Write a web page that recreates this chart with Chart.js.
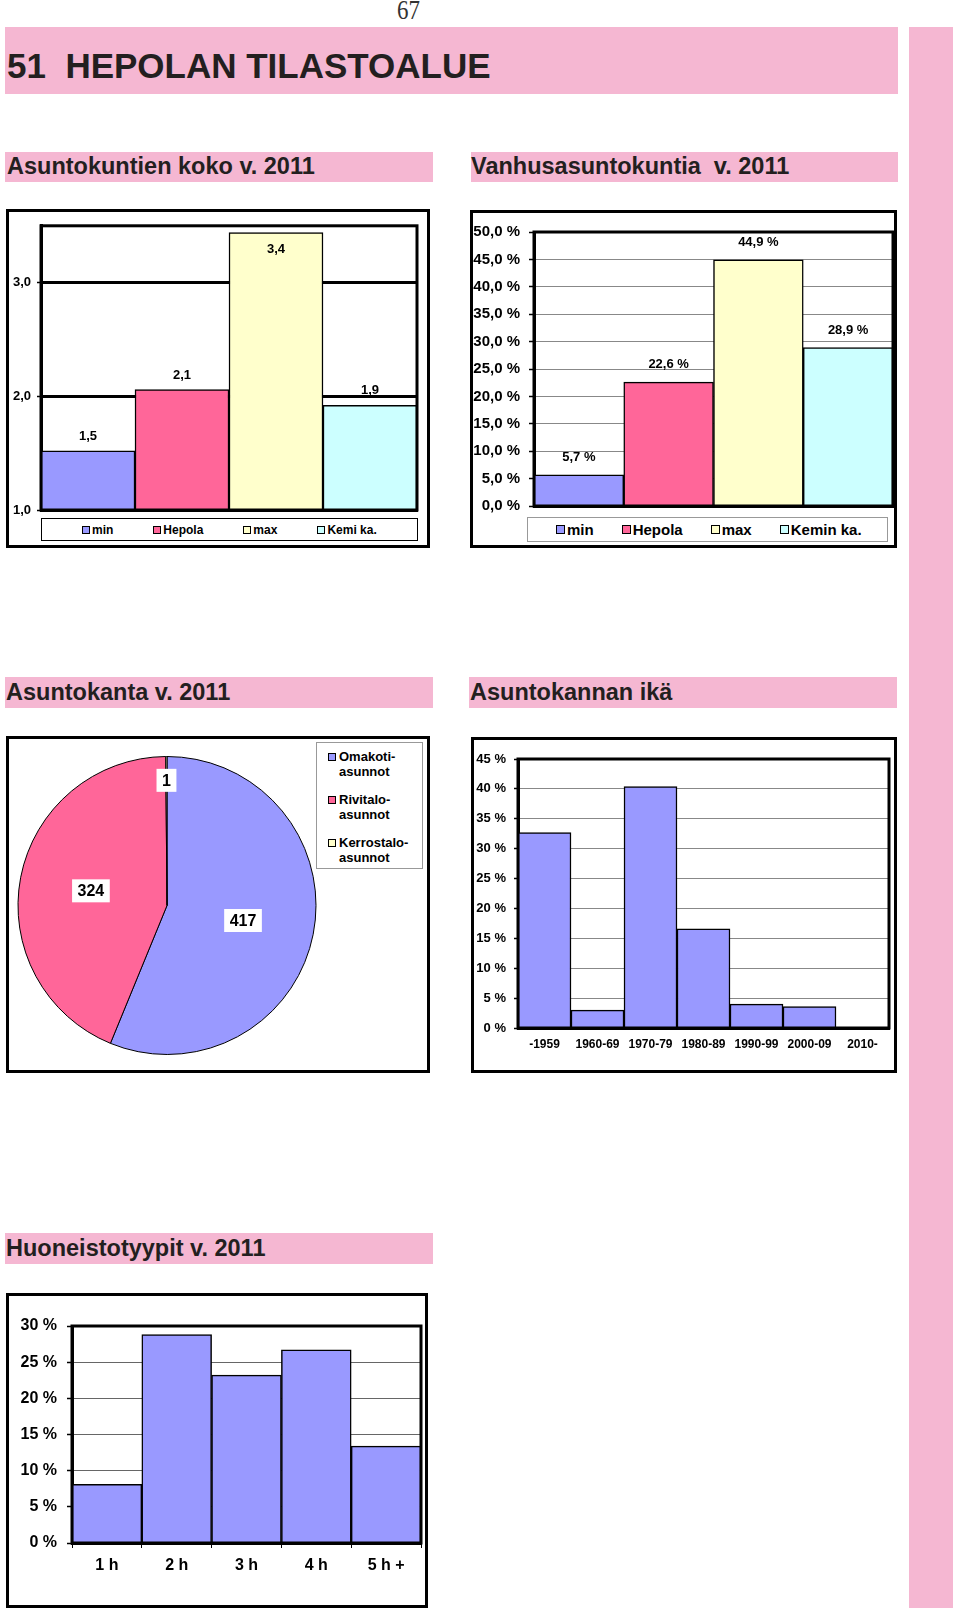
<!DOCTYPE html>
<html>
<head>
<meta charset="utf-8">
<script src="https://cdn.jsdelivr.net/npm/chart.js@4.4.1/dist/chart.umd.min.js"></script>
<style>
body { margin: 0; background: #fff; }
#page { position: relative; width: 960px; height: 1614px; overflow: hidden;
        font-family: "Liberation Sans", Arial, sans-serif; color: #231f20; }
.band { position: absolute; background: #f5b7d2; }
.title { position: absolute; white-space: pre; font-weight: bold; line-height: 1; }
.box { position: absolute; border: 3px solid #000; box-sizing: border-box; background: #fff; }
.box canvas { position: absolute; left: 0; top: 0; }
.legend { position: absolute; box-sizing: border-box; background: #fff; font-weight: bold; color: #000;
          display: flex; align-items: center; white-space: nowrap; }
.legend .item { display: flex; align-items: center; }
.legend .mark { display: inline-block; border: 1px solid #000; box-sizing: border-box; margin-right: 2px; }
.pielegend { position: absolute; border: 1px solid #999; box-sizing: border-box; background: #fff;
             font-weight: bold; font-size: 13px; color: #000; }
.pielegend .item { position: absolute; left: 0; line-height: 15px; }
.pielegend .mark { position: absolute; left: 11px; top: 4px; width: 8px; height: 8px; border: 1px solid #000; box-sizing: border-box; }
.pielegend .txt { position: absolute; left: 22px; top: 0; white-space: pre; }
</style>
</head>
<body>
<div id="page">
  <div class="title" style="left:397px;top:-3px;font-family:'Liberation Serif',serif;font-weight:normal;font-size:27px;color:#333;transform:scaleX(0.85);transform-origin:left;">67</div>
  <div class="band" style="left:5px;top:27px;width:893px;height:67px;"></div>
  <div class="title" style="left:7px;top:48px;font-size:35px;">51  HEPOLAN TILASTOALUE</div>
  <div class="band" style="left:909px;top:27px;width:44px;height:1581px;"></div>

  <div class="band" style="left:5px;top:152px;width:428px;height:30px;"></div>
  <div class="title" style="left:7px;top:155px;font-size:23.5px;">Asuntokuntien koko v. 2011</div>
  <div class="band" style="left:471px;top:152px;width:427px;height:30px;"></div>
  <div class="title" style="left:471px;top:155px;font-size:23.5px;">Vanhusasuntokuntia  v. 2011</div>

  <div class="box" style="left:6px;top:209px;width:424px;height:339px;"><canvas id="koko" width="418" height="333"></canvas></div>
  <div class="legend" id="kokoLegend" style="left:41px;top:518px;width:377px;height:23px;border:1.5px solid #000;font-size:12px;padding-left:40px;gap:40px;"></div>

  <div class="box" style="left:470px;top:210px;width:427px;height:338px;"><canvas id="vanhus" width="421" height="332"></canvas></div>
  <div class="legend" id="vanhusLegend" style="left:527px;top:517px;width:361px;height:25px;border:1.5px solid #999;font-size:15px;padding-left:28px;gap:28px;"></div>

  <div class="band" style="left:5px;top:677px;width:428px;height:31px;"></div>
  <div class="title" style="left:6px;top:681px;font-size:23.5px;">Asuntokanta v. 2011</div>
  <div class="band" style="left:469px;top:677px;width:428px;height:31px;"></div>
  <div class="title" style="left:470px;top:681px;font-size:23.5px;">Asuntokannan ikä</div>

  <div class="box" style="left:6px;top:736px;width:424px;height:337px;"><canvas id="kanta" width="418" height="331"></canvas></div>
  <div class="pielegend" id="kantaLegend" style="left:316px;top:742px;width:107px;height:127px;"></div>

  <div class="box" style="left:471px;top:737px;width:426px;height:336px;"><canvas id="ika" width="420" height="330"></canvas></div>

  <div class="band" style="left:5px;top:1233px;width:428px;height:31px;"></div>
  <div class="title" style="left:6px;top:1237px;font-size:23.5px;">Huoneistotyypit v. 2011</div>

  <div class="box" style="left:6px;top:1293px;width:422px;height:315px;"><canvas id="tyyppi" width="416" height="309"></canvas></div>
</div>

<script>
// --- DATA ---
const kokoLabels = ['min', 'Hepola', 'max', 'Kemi ka.'];
const kokoValues = [1.52, 2.06, 3.44, 1.92];

const vanhusLabels = ['min', 'Hepola', 'max', 'Kemin ka.'];
const vanhusValues = [5.7, 22.6, 44.9, 28.9];

const kantaLabels = [['Omakoti-', 'asunnot'], ['Rivitalo-', 'asunnot'], ['Kerrostalo-', 'asunnot']];
const kantaValues = [417, 324, 1];

const ikaLabels = ['-1959', '1960-69', '1970-79', '1980-89', '1990-99', '2000-09', '2010-'];
const ikaValues = [32.7, 3.0, 40.4, 16.6, 4.0, 3.6, 0];

const tyyppiLabels = ['1 h', '2 h', '3 h', '4 h', '5 h +'];
const tyyppiValues = [8.1, 28.8, 23.2, 26.7, 13.4];

const vertailuColors = ['#9999ff', '#ff6699', '#ffffcc', '#ccffff'];
const kantaColors = ['#9999ff', '#ff6699', '#ffffcc'];
const barColor = '#9999ff';

Chart.defaults.font.family = "'Liberation Sans', Arial, sans-serif";
Chart.defaults.color = '#000';
Chart.defaults.animation = false;

const pilkku = (v, d) => v.toFixed(d).replace('.', ',');

// kehys piirtoalueen ympärille
const plotFrame = {
  id: 'plotFrame',
  afterDatasetsDraw(chart, args, opts) {
    const a = chart.chartArea, ctx = chart.ctx;
    ctx.save();
    ctx.lineWidth = opts.width || 3;
    ctx.strokeStyle = '#000';
    ctx.strokeRect(a.left, a.top, a.right - a.left, a.bottom - a.top);
    ctx.restore();
  }
};

// arvot pylväiden päälle
const barLabels = {
  id: 'barLabels',
  afterDatasetsDraw(chart, args, opts) {
    if (!opts.format) return;
    const ctx = chart.ctx;
    const meta = chart.getDatasetMeta(0);
    ctx.save();
    ctx.font = 'bold ' + opts.size + 'px "Liberation Sans", Arial, sans-serif';
    ctx.fillStyle = '#000';
    ctx.textAlign = 'center';
    meta.data.forEach((bar, i) => {
      const v = chart.data.datasets[0].data[i];
      let y = bar.y - opts.offset;
      ctx.textBaseline = 'bottom';
      if (y - opts.size < chart.chartArea.top) {
        y = bar.y + opts.offset + 2;
        ctx.textBaseline = 'top';
      }
      ctx.fillText(opts.format(v), bar.x, y);
    });
    ctx.restore();
  }
};

// piirakan arvot valkoisella pohjalla
const pieLabels = {
  id: 'pieLabels',
  afterDatasetsDraw(chart) {
    const ctx = chart.ctx;
    const meta = chart.getDatasetMeta(0);
    ctx.save();
    ctx.font = 'bold 16px "Liberation Sans", Arial, sans-serif';
    ctx.textAlign = 'center';
    ctx.textBaseline = 'middle';
    meta.data.forEach((arc, i) => {
      const v = chart.data.datasets[0].data[i];
      const span = arc.endAngle - arc.startAngle;
      const frac = span < 0.2 ? 0.84 : 0.52;
      const mid = (arc.startAngle + arc.endAngle) / 2;
      const x = arc.x + Math.cos(mid) * arc.outerRadius * frac;
      const y = arc.y + Math.sin(mid) * arc.outerRadius * frac;
      const t = String(v);
      const w = ctx.measureText(t).width + 11, h = 23;
      ctx.fillStyle = '#fff';
      ctx.fillRect(x - w / 2, y - h / 2, w, h);
      ctx.fillStyle = '#000';
      ctx.fillText(t, x, y + 1);
    });
    ctx.restore();
  }
};

function yScale(o) {
  return {
    min: o.min, max: o.max,
    afterFit: s => { s.width = o.width; },
    ticks: { stepSize: o.step, includeBounds: false, padding: o.pad,
             font: { size: o.font, weight: 'bold' }, callback: o.format },
    grid: { color: o.gridColor, lineWidth: o.gridWidth, tickLength: o.tick, tickColor: '#000', tickWidth: 1.5 },
    border: { display: true, color: '#000', width: 3 }
  };
}

function barChart(id, labels, values, colors, o) {
  return new Chart(document.getElementById(id), {
    type: 'bar',
    data: {
      labels: labels,
      datasets: [{
        data: values,
        backgroundColor: colors,
        borderColor: '#000',
        borderWidth: 1.5,
        barPercentage: 1,
        categoryPercentage: 1
      }]
    },
    options: {
      responsive: false,
      layout: { padding: o.padding },
      plugins: {
        legend: { display: false },
        tooltip: { enabled: false },
        plotFrame: { width: 3 },
        barLabels: o.labels || {}
      },
      scales: {
        x: o.x,
        y: yScale(o.y)
      }
    },
    plugins: [plotFrame, barLabels]
  });
}

// 1. Asuntokuntien koko
barChart('koko', kokoLabels, kokoValues, vertailuColors, {
  padding: { left: 0, top: 13, right: 10, bottom: 35 },
  x: { afterFit: s => { s.height = 0; }, ticks: { display: false }, grid: { display: false },
       border: { display: true, color: '#000', width: 3 } },
  y: { min: 1, max: 3.5, step: 1, width: 32, pad: 6, tick: 4, font: 13,
       gridColor: '#000', gridWidth: 3, format: v => pilkku(v, 1) },
  labels: { size: 13, offset: 8, format: v => pilkku(v, 1) }
});

// 2. Vanhusasuntokuntia
barChart('vanhus', vanhusLabels, vanhusValues, vertailuColors, {
  padding: { left: 0, top: 19, right: 1, bottom: 39 },
  x: { afterFit: s => { s.height = 0; }, ticks: { display: false }, grid: { display: false },
       border: { display: true, color: '#000', width: 3 } },
  y: { min: 0, max: 50, step: 5, width: 61, pad: 9, tick: 5, font: 15,
       gridColor: '#888', gridWidth: 1, format: v => pilkku(v, 1) + ' %' },
  labels: { size: 13, offset: 11, format: v => pilkku(v, 1) + ' %' }
});

// 4. Asuntokannan ikä
barChart('ika', ikaLabels, ikaValues, barColor, {
  padding: { left: 0, top: 19, right: 5, bottom: 12 },
  x: { afterFit: s => { s.height = 30; },
       ticks: { padding: 9, maxRotation: 0, autoSkip: false, font: { size: 12, weight: 'bold' } },
       grid: { display: false, drawTicks: false },
       border: { display: true, color: '#000', width: 3 } },
  y: { min: 0, max: 45, step: 5, width: 44, pad: 8, tick: 4, font: 13,
       gridColor: '#888', gridWidth: 1, format: v => v + ' %' }
});

// 5. Huoneistotyypit
barChart('tyyppi', tyyppiLabels, tyyppiValues, barColor, {
  padding: { left: 0, top: 30, right: 4, bottom: 20 },
  x: { afterFit: s => { s.height = 42; },
       ticks: { padding: 8, maxRotation: 0, font: { size: 16, weight: 'bold' } },
       grid: { display: true, drawOnChartArea: false, drawTicks: true, tickLength: 5, color: '#000', lineWidth: 1 },
       border: { display: true, color: '#000', width: 3 } },
  y: { min: 0, max: 30, step: 5, width: 63, pad: 10, tick: 5, font: 16,
       gridColor: '#666', gridWidth: 1, format: v => v + ' %' }
});

// 3. Asuntokanta (piirakka)
new Chart(document.getElementById('kanta'), {
  type: 'pie',
  data: {
    labels: kantaLabels.map(l => l.join(' ')),
    datasets: [{
      data: kantaValues,
      backgroundColor: kantaColors,
      borderColor: '#000',
      borderWidth: 1
    }]
  },
  options: {
    responsive: false,
    layout: { padding: { left: 8, top: 17, right: 110, bottom: 15 } },
    plugins: { legend: { display: false }, tooltip: { enabled: false } }
  },
  plugins: [pieLabels]
});

// --- SELITTEET ---
function fillLegend(id, labels, colors, markSize) {
  const el = document.getElementById(id);
  labels.forEach((l, i) => {
    const item = document.createElement('div');
    item.className = 'item';
    const m = document.createElement('span');
    m.className = 'mark';
    m.style.width = markSize + 'px';
    m.style.height = markSize + 'px';
    m.style.background = colors[i];
    item.appendChild(m);
    item.appendChild(document.createTextNode(l));
    el.appendChild(item);
  });
}
fillLegend('kokoLegend', kokoLabels, vertailuColors, 8);
fillLegend('vanhusLegend', vanhusLabels, vertailuColors, 9);

const pieLeg = document.getElementById('kantaLegend');
kantaLabels.forEach((l, i) => {
  const item = document.createElement('div');
  item.className = 'item';
  item.style.top = (6 + i * 43) + 'px';
  item.innerHTML = '<span class="mark" style="background:' + kantaColors[i] + '"></span>' +
                   '<span class="txt">' + l.join('\n') + '</span>';
  pieLeg.appendChild(item);
});
</script>
</body>
</html>
